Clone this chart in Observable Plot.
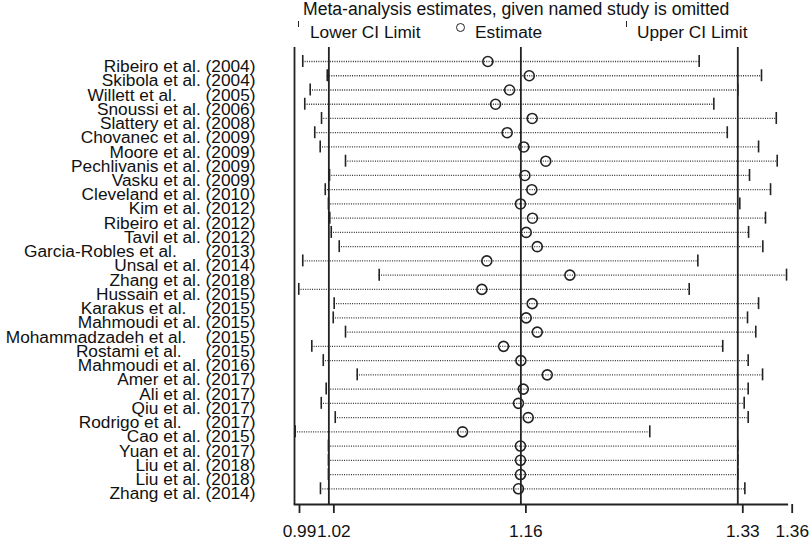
<!DOCTYPE html>
<html>
<head>
<meta charset="utf-8">
<script src="https://cdn.jsdelivr.net/npm/d3@7"></script>
<script src="https://cdn.jsdelivr.net/npm/@observablehq/plot@0.6"></script>
<style>
  html, body { margin: 0; padding: 0; background: #fff; }
  #wrap { position: relative; width: 810px; height: 540px; font-family: "Liberation Sans", Arial, sans-serif; }
  #hdr { position: relative; height: 46px; }
  .t { position: absolute; font-size: 17.3px; line-height: 17px; white-space: nowrap; color: #111; }
  .bar { position: absolute; width: 0; border-left: 1.6px solid #222; }
  .ring { position: absolute; width: 7px; height: 7px; border: 1.4px solid #222; border-radius: 50%; }
  svg text { white-space: pre; }
</style>
</head>
<body>
<div id="wrap">
  <div id="hdr">
    <span class="t" style="left:303px;top:1px;font-size:17.6px">Meta-analysis estimates, given named study is omitted</span>
    <div class="bar" style="left:297.5px;top:20.5px;height:6px"></div>
    <span class="t" style="left:310px;top:23.5px">Lower CI Limit</span>
    <div class="ring" style="left:456px;top:22.5px"></div>
    <span class="t" style="left:475px;top:23.5px">Estimate</span>
    <div class="bar" style="left:625.5px;top:20.5px;height:6px"></div>
    <span class="t" style="left:637px;top:23.5px">Upper CI Limit</span>
  </div>
  <div id="chart"></div>
</div>
<script>
const studies = [
  "Ribeiro et al. (2004)",
  "Skibola et al. (2004)",
  "Willett et al.      (2005)",
  "Snoussi et al. (2006)",
  "Slattery et al. (2008)",
  "Chovanec et al. (2009)",
  "Moore et al. (2009)",
  "Pechlivanis et al. (2009)",
  "Vasku et al. (2009)",
  "Cleveland et al. (2010)",
  "Kim et al. (2012)",
  "Ribeiro et al. (2012)",
  "Tavil et al. (2012)",
  "Garcia-Robles et al.      (2013)",
  "Unsal et al. (2014)",
  "Zhang et al. (2018)",
  "Hussain et al. (2015)",
  "Karakus et al.    (2015)",
  "Mahmoudi et al. (2015)",
  "Mohammadzadeh et al.    (2015)",
  "Rostami et al.     (2015)",
  "Mahmoudi et al. (2016)",
  "Amer et al. (2017)",
  "Ali et al. (2017)",
  "Qiu et al. (2017)",
  "Rodrigo et al.     (2017)",
  "Cao et al. (2015)",
  "Yuan et al. (2017)",
  "Liu et al. (2018)",
  "Liu et al. (2018)",
  "Zhang et al. (2014)"
];
const lowerCI = [0.9962,1.0146,1.0018,0.9977,1.0103,1.0052,1.0093,1.0283,1.0163,1.0131,1.0155,1.0165,1.0176,1.0236,0.9962,1.0536,0.9932,1.0198,1.0191,1.0283,1.0030,1.0116,1.0371,1.0138,1.0101,1.0206,0.9905,1.0155,1.0155,1.0155,1.0095];
const estimate = [1.1352,1.1663,1.1515,1.1410,1.1685,1.1497,1.1622,1.1787,1.1630,1.1682,1.1597,1.1687,1.1640,1.1723,1.1344,1.1968,1.1307,1.1685,1.1640,1.1723,1.1470,1.1600,1.1798,1.1618,1.1582,1.1655,1.1162,1.1597,1.1597,1.1597,1.1582];
const upperCI = [1.2939,1.3407,1.3229,1.3049,1.3518,1.3150,1.3385,1.3525,1.3317,1.3475,1.3244,1.3437,1.3310,1.3417,1.2929,1.3595,1.2864,1.3385,1.3302,1.3364,1.3116,1.3307,1.3415,1.3307,1.3277,1.3307,1.2568,1.3229,1.3229,1.3229,1.3282];

const axisMin = 0.99, axisMax = 1.36;
const overallLower = 1.0158, overallEstimate = 1.16, overallUpper = 1.3229;
const tickValues = [0.99, 1.0158, 1.16, 1.3229, 1.36];
const tickLabels = ["0.99", "1.02", "1.16", "1.33", "1.36"];

const rows = studies.map((label, i) => ({i, label, lo: lowerCI[i], est: estimate[i], hi: upperCI[i]}));
const refLines = [axisMin, overallLower, overallEstimate, overallUpper];
const labelMap = new Map(tickValues.map((v, i) => [v, tickLabels[i]]));

const ink = "#222";
const chart = Plot.plot({
  width: 810,
  height: 494,
  marginTop: 1,
  marginBottom: 36,
  marginLeft: 294,
  marginRight: 23.3,
  x: {domain: [axisMin, axisMax]},
  y: {domain: [0, studies.length - 1], range: [15, 442.3], axis: null},
  style: {fontFamily: '"Liberation Sans", Arial, sans-serif', fontSize: "17.3px", color: "#111", background: "#fff"},
  marks: [
    Plot.ruleY(rows, {y: "i", x1: "lo", x2: "hi", stroke: "#333", strokeWidth: 1.3, strokeDasharray: "1,1.3"}),
    Plot.ruleX(refLines, {stroke: ink, strokeWidth: 1.8}),
    Plot.frame({anchor: "bottom", stroke: ink, strokeWidth: 1.8}),
    Plot.ruleX(rows, {x: "lo", y1: d => d.i - 0.42, y2: d => d.i + 0.42, stroke: ink, strokeWidth: 1.6}),
    Plot.ruleX(rows, {x: "hi", y1: d => d.i - 0.42, y2: d => d.i + 0.42, stroke: ink, strokeWidth: 1.6}),
    Plot.dot(rows, {x: "est", y: "i", r: 5, stroke: ink, strokeWidth: 1.6, fill: "none"}),
    Plot.text(rows, {y: "i", text: "label", frameAnchor: "left", textAnchor: "end", dx: -39, dy: 5, fontSize: 17.3, fill: "#111"}),
    Plot.axisX({ticks: tickValues, tickFormat: d => labelMap.get(d), tickSize: 9, tickPadding: 11.5, fontSize: 17.3, dx: 5, label: null, strokeWidth: 1.8, stroke: ink})
  ]
});
document.getElementById("chart").appendChild(chart);
</script>
</body>
</html>
